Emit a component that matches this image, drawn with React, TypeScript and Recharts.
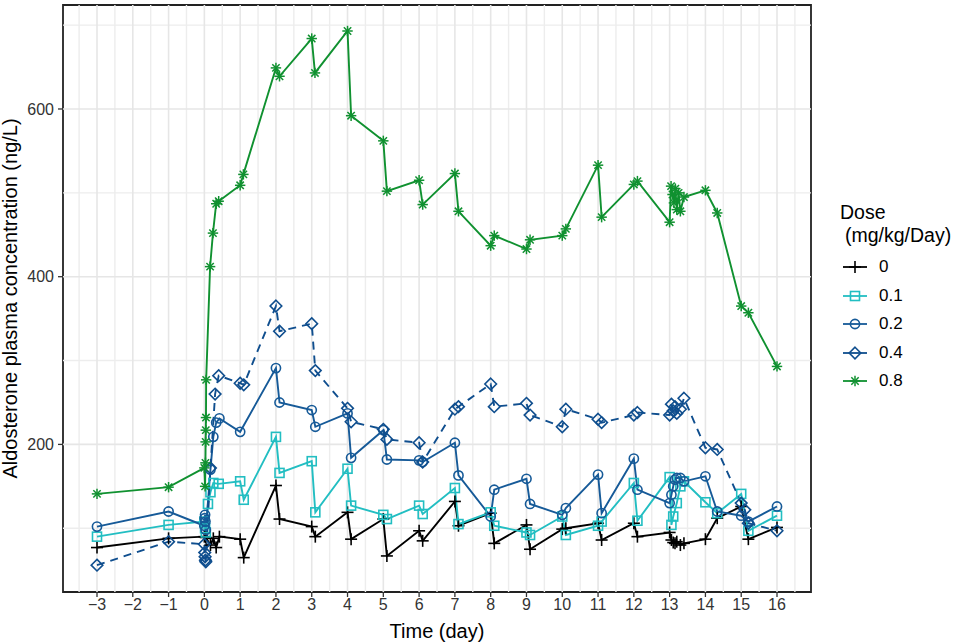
import React from 'react';
import { LineChart, Line, XAxis, YAxis, ReferenceLine, ReferenceArea } from 'recharts';

if (typeof document !== 'undefined') document.body.style.margin = '0';

const FONT = '"Liberation Sans", Arial, sans-serif';

// axes
const xTicks = [-3, -2, -1, 0, 1, 2, 3, 4, 5, 6, 7, 8, 9, 10, 11, 12, 13, 14, 15, 16];
const xMinor = [-3.5, -2.5, -1.5, -0.5, 0.5, 1.5, 2.5, 3.5, 4.5, 5.5, 6.5, 7.5, 8.5, 9.5, 10.5, 11.5, 12.5, 13.5, 14.5, 15.5, 16.5];
const yTicks = [200, 400, 600];
const yMinor = [100, 300, 500, 700];

// dose 0
const t0 = [-3, -1, 0, 0.04, 0.17, 0.25, 0.33, 0.42, 1.0, 1.1, 2.0, 2.1, 3.0, 3.1, 4.0, 4.1, 5.0, 5.1, 6.0, 6.1, 7.0, 7.1, 8.0, 8.1, 9.0, 9.1, 10.0, 10.1, 11.0, 11.1, 12.0, 12.1, 13.0, 13.05, 13.1, 13.15, 13.2, 13.3, 13.4, 14.0, 14.33, 15.0, 15.2, 16.0];
const c0 = [77, 88, 90, 89, 80, 88, 77, 90, 87, 65, 151, 111, 102, 90, 119, 87, 111, 67, 97, 85, 132, 103, 118, 82, 104, 75, 99, 100, 106, 86, 106, 90, 95, 86, 83, 82, 84, 80, 82, 87, 112, 126, 87, 101];

// dose 0.1
const t1 = [-3, -1, 0, 0.02, 0.04, 0.1, 0.17, 0.25, 0.4, 1.0, 1.1, 2.0, 2.1, 3.0, 3.1, 4.0, 4.1, 5.0, 5.1, 6.0, 6.1, 7.0, 7.1, 8.0, 8.1, 9.0, 9.1, 10.0, 10.1, 11.0, 11.1, 12.0, 12.1, 13.0, 13.05, 13.1, 13.2, 13.3, 13.4, 14.0, 14.33, 15.0, 15.2, 16.0];
const c1 = [90, 104, 108, 100, 95, 129, 143, 154, 153, 156, 134, 209, 166, 180, 119, 171, 127, 116, 111, 127, 117, 148, 105, 119, 103, 95, 92, 114, 92, 103, 108, 154, 109, 161, 104, 114, 130, 150, 156, 131, 118, 141, 97, 115];

// dose 0.2
const t2 = [-3, -1, 0, 0.01, 0.02, 0.03, 0.04, 0.17, 0.25, 0.33, 0.42, 1.0, 2.0, 2.1, 3.0, 3.1, 4.0, 4.1, 5.0, 5.1, 6.0, 6.1, 7.0, 7.1, 8.0, 8.1, 9.0, 9.1, 10.0, 10.1, 11.0, 11.1, 12.0, 12.1, 13.0, 13.05, 13.1, 13.15, 13.2, 13.3, 13.4, 14.0, 14.33, 15.0, 15.2, 16.0];
const c2 = [102, 120, 103, 112, 116, 108, 98, 170, 209, 226, 231, 215, 291, 250, 241, 221, 237, 184, 217, 182, 181, 179, 202, 163, 114, 146, 159, 129, 116, 124, 164, 118, 183, 146, 130, 140, 150, 158, 160, 160, 156, 162, 120, 115, 108, 126];

// dose 0.4
const t4 = [-3, -1, 0, 0.01, 0.02, 0.03, 0.04, 0.17, 0.3, 0.4, 1.0, 1.1, 2.0, 2.1, 3.0, 3.1, 4.0, 4.1, 5.0, 5.1, 6.0, 6.1, 7.0, 7.1, 8.0, 8.1, 9.0, 9.1, 10.0, 10.1, 11.0, 11.1, 12.0, 12.1, 13.0, 13.05, 13.1, 13.15, 13.2, 13.3, 13.4, 14.0, 14.33, 15.0, 15.1, 15.2, 16.0];
const c4 = [56, 84, 81, 71, 66, 62, 60, 172, 260, 282, 273, 271, 365, 335, 344, 288, 243, 227, 218, 206, 202, 179, 242, 245, 272, 245, 249, 235, 221, 242, 230, 226, 235, 238, 235, 248, 240, 245, 237, 242, 255, 196, 194, 130, 122, 106, 97];

// dose 0.8
const t8 = [-3, -1, 0, 0.02, 0.03, 0.035, 0.04, 0.045, 0.05, 0.16, 0.24, 0.33, 0.4, 1.0, 1.09, 2.0, 2.1, 3.0, 3.09, 4.0, 4.1, 5.0, 5.1, 6.0, 6.1, 7.0, 7.1, 8.0, 8.1, 9.0, 9.1, 10.0, 10.1, 11.0, 11.1, 12.0, 12.1, 13.0, 13.04, 13.08, 13.12, 13.16, 13.2, 13.25, 13.3, 13.4, 14.0, 14.33, 15.0, 15.2, 16.0];
const c8 = [141, 149, 172, 150, 178, 203, 217, 232, 277, 412, 452, 487, 490, 509, 522, 649, 639, 684, 643, 693, 592, 562, 502, 515, 486, 523, 478, 437, 449, 433, 444, 449, 457, 533, 471, 510, 514, 465, 508, 498, 488, 505, 480, 500, 478, 495, 503, 476, 365, 357, 293];

const doses = ['0', '0.1', '0.2', '0.4', '0.8'];
const colors = ['#000000', '#22BEC2', '#165A98', '#0F4E8E', '#109130'];

const toRows = (t: number[], c: number[]) => t.map((x, i) => ({ t: x, c: c[i] }));

type Sym = 'plus' | 'square' | 'circle' | 'diamond' | 'star';
const symbols: Sym[] = ['plus', 'square', 'circle', 'diamond', 'star'];

function Marker({ cx, cy, sym, color }: { cx: number; cy: number; sym: Sym; color: string }) {
  const sw = 1.6;
  if (sym === 'plus') {
    return (
      <g stroke={color} strokeWidth={sw}>
        <line x1={cx - 6} y1={cy} x2={cx + 6} y2={cy} />
        <line x1={cx} y1={cy - 6} x2={cx} y2={cy + 6} />
      </g>
    );
  }
  if (sym === 'square') {
    return <rect x={cx - 4.5} y={cy - 4.5} width={9} height={9} fill="none" stroke={color} strokeWidth={sw} />;
  }
  if (sym === 'circle') {
    return <circle cx={cx} cy={cy} r={4.6} fill="none" stroke={color} strokeWidth={sw} />;
  }
  if (sym === 'diamond') {
    return (
      <polygon
        points={`${cx},${cy - 5.8} ${cx + 5.8},${cy} ${cx},${cy + 5.8} ${cx - 5.8},${cy}`}
        fill="none"
        stroke={color}
        strokeWidth={sw}
      />
    );
  }
  const a = 5.2;
  const d = a * 0.707;
  return (
    <g stroke={color} strokeWidth={1.5}>
      <line x1={cx - a} y1={cy} x2={cx + a} y2={cy} />
      <line x1={cx} y1={cy - a} x2={cx} y2={cy + a} />
      <line x1={cx - d} y1={cy - d} x2={cx + d} y2={cy + d} />
      <line x1={cx - d} y1={cy + d} x2={cx + d} y2={cy - d} />
    </g>
  );
}

const dotFor = (i: number) => (p: any) => (
  <Marker key={`m${i}-${p.index}`} cx={p.cx} cy={p.cy} sym={symbols[i]} color={colors[i]} />
);

const series = [toRows(t0, c0), toRows(t1, c1), toRows(t2, c2), toRows(t4, c4), toRows(t8, c8)];

const fmtX = (v: number) => (v < 0 ? `\u2212${Math.abs(v)}` : `${v}`);

function DoseLegend() {
  return (
    <div style={{ position: 'absolute', left: 840, top: 201, fontFamily: FONT, color: '#000' }}>
      <div style={{ fontSize: 19.5, lineHeight: '23px' }}>Dose</div>
      <div style={{ fontSize: 19.5, lineHeight: '23px', paddingLeft: 5 }}>(mg/kg/Day)</div>
      <div style={{ marginTop: 6 }}>
        {doses.map((d, i) => (
          <div key={d} style={{ display: 'flex', alignItems: 'center', height: 28.5 }}>
            <svg width={30} height={20} style={{ overflow: 'visible' }}>
              <line x1={3} y1={10} x2={27} y2={10} stroke={colors[i]} strokeWidth={1.8} />
              <Marker cx={15} cy={10} sym={symbols[i]} color={colors[i]} />
            </svg>
            <span style={{ fontSize: 17, marginLeft: 9 }}>{d}</span>
          </div>
        ))}
      </div>
    </div>
  );
}

export default function App() {
  return (
    <div style={{ position: 'relative', width: 957, height: 643, background: '#fff' }}>
      <LineChart width={957} height={643} margin={{ top: 5, right: 146, bottom: 0, left: 0 }}>
        <XAxis
          type="number"
          dataKey="t"
          domain={[-3.95, 16.95]}
          ticks={xTicks}
          tickFormatter={fmtX}
          interval={0}
          height={51}
          tickSize={5}
          tickMargin={2}
          axisLine={false}
          tickLine={{ stroke: '#333', strokeWidth: 1.3 }}
          tick={{ fontSize: 16, fill: '#333', fontFamily: FONT }}
          allowDataOverflow
          label={{ value: 'Time (day)', position: 'insideBottom', offset: 5, style: { fontSize: 20, fill: '#000', fontFamily: FONT } }}
        />
        <YAxis
          type="number"
          domain={[24, 724]}
          ticks={yTicks}
          width={63}
          tickSize={5}
          tickMargin={4}
          axisLine={false}
          tickLine={{ stroke: '#333', strokeWidth: 1.3 }}
          tick={{ fontSize: 16, fill: '#333', fontFamily: FONT }}
          allowDataOverflow
          label={{
            value: 'Aldosterone plasma concentration (ng/L)',
            angle: -90,
            position: 'insideLeft',
            offset: 10,
            style: { fontSize: 20, fill: '#000', fontFamily: FONT, textAnchor: 'middle' },
          }}
        />
        {xMinor.map((v) => (
          <ReferenceLine key={`xm${v}`} x={v} stroke="#EDEDED" strokeWidth={1.4} />
        ))}
        {yMinor.map((v) => (
          <ReferenceLine key={`ym${v}`} y={v} stroke="#EDEDED" strokeWidth={1.4} />
        ))}
        {xTicks.map((v) => (
          <ReferenceLine key={`xg${v}`} x={v} stroke="#E6E6E6" strokeWidth={1.6} />
        ))}
        {yTicks.map((v) => (
          <ReferenceLine key={`yg${v}`} y={v} stroke="#E6E6E6" strokeWidth={1.6} />
        ))}
        {series.map((rows, i) => (
          <Line
            key={doses[i]}
            data={rows}
            dataKey="c"
            type="linear"
            stroke={colors[i]}
            strokeWidth={1.9}
            strokeDasharray={doses[i] === '0.4' ? '8 6' : undefined}
            dot={dotFor(i)}
            activeDot={false}
            isAnimationActive={false}
          />
        ))}
        <ReferenceArea x1={-3.95} x2={16.95} y1={24} y2={724} fill="none" stroke="#222" strokeWidth={1.8} />
      </LineChart>
      <DoseLegend />
    </div>
  );
}
